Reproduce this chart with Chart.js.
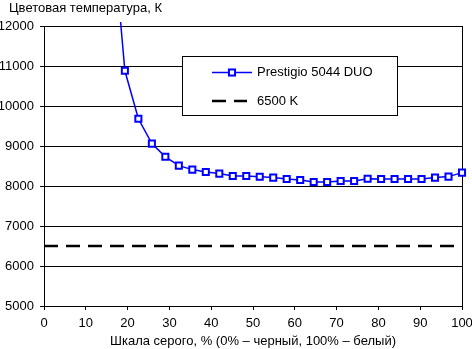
<!DOCTYPE html>
<html>
<head>
<meta charset="utf-8">
<script src="https://cdn.jsdelivr.net/npm/chart.js@4/dist/chart.umd.min.js"></script>
<style>
  html, body { margin: 0; padding: 0; background: #ffffff; }
  canvas { display: block; }
</style>
</head>
<body>
<canvas id="c" width="472" height="349"></canvas>
<script>
// Gray level of each measured step, % (0% = black, 100% = white)
const grayLevels = [16.13, 19.35, 22.58, 25.81, 29.03, 32.26, 35.48, 38.71, 41.94, 45.16,
                    48.39, 51.61, 54.84, 58.06, 61.29, 64.52, 67.74, 70.97, 74.19, 77.42,
                    80.65, 83.87, 87.10, 90.32, 93.55, 96.77, 100];
// Measured colour temperature at each step, K
const colorTemps = [14700, 10880, 9680, 9060, 8730, 8510, 8410, 8350, 8310, 8250,
                    8250, 8230, 8210, 8175, 8150, 8100, 8100, 8125, 8125, 8180,
                    8175, 8175, 8175, 8175, 8210, 8235, 8335];
// Reference white point line
const referenceTemp = 6500;
const referenceSpan = [0, 100];

const seriesNames = ['Prestigio 5044 DUO', '6500 K'];
const xTicks = [0, 10, 20, 30, 40, 50, 60, 70, 80, 90, 100];
const yTicks = [5000, 6000, 7000, 8000, 9000, 10000, 11000, 12000];

const chartTitle = 'Цветовая температура, К';
const xTitle = 'Шкала серого, % (0% – черный, 100% – белый)';

const FONT = { family: '"Liberation Sans", Arial, sans-serif', size: 13 };
const CSS_FONT = FONT.size + 'px ' + FONT.family;

// Axis caption above the value axis, left-aligned
const topCaption = {
  id: 'topCaption',
  afterDraw(chart) {
    const ctx = chart.ctx;
    ctx.save();
    ctx.font = CSS_FONT;
    ctx.fillStyle = '#000000';
    ctx.textAlign = 'left';
    ctx.textBaseline = 'middle';
    ctx.fillText(chartTitle, 9, 8);
    ctx.restore();
  }
};

// Boxed legend drawn inside the plot area
const boxLegend = {
  id: 'boxLegend',
  afterDatasetsDraw(chart) {
    const ctx = chart.ctx;
    const ds = chart.data.datasets;
    const bx = 182.5, by = 56.5, bw = 215, bh = 59;
    ctx.save();
    ctx.fillStyle = '#ffffff';
    ctx.fillRect(bx, by, bw, bh);
    ctx.strokeStyle = '#000000';
    ctx.lineWidth = 1;
    ctx.strokeRect(bx, by, bw, bh);

    const x0 = 212, x1 = 252, tx = 257;
    const rows = [72.5, 101];
    ctx.font = CSS_FONT;
    ctx.textBaseline = 'middle';
    ctx.textAlign = 'left';

    // series row
    ctx.strokeStyle = ds[0].borderColor;
    ctx.lineWidth = ds[0].borderWidth;
    ctx.beginPath();
    ctx.moveTo(x0, rows[0]); ctx.lineTo(x1, rows[0]);
    ctx.stroke();
    const s = ds[0].pointRadius * Math.SQRT1_2;
    const cx = (x0 + x1) / 2;
    ctx.fillStyle = ds[0].pointBackgroundColor;
    ctx.lineWidth = ds[0].pointBorderWidth;
    ctx.strokeStyle = ds[0].pointBorderColor;
    ctx.fillRect(cx - s, rows[0] - s, 2 * s, 2 * s);
    ctx.strokeRect(cx - s, rows[0] - s, 2 * s, 2 * s);
    ctx.fillStyle = '#000000';
    ctx.fillText(ds[0].label, tx, rows[0]);

    // reference row
    ctx.strokeStyle = ds[1].borderColor;
    ctx.lineWidth = ds[1].borderWidth;
    ctx.setLineDash(ds[1].borderDash);
    ctx.beginPath();
    ctx.moveTo(x0, rows[1]); ctx.lineTo(x1 - 5, rows[1]);
    ctx.stroke();
    ctx.setLineDash([]);
    ctx.fillText(ds[1].label, tx, rows[1]);
    ctx.restore();
  }
};

new Chart(document.getElementById('c'), {
  type: 'line',
  data: {
    datasets: [
      {
        label: seriesNames[0],
        data: grayLevels.map((g, i) => ({ x: g, y: colorTemps[i] })),
        borderColor: '#0000ff',
        borderWidth: 1.5,
        pointStyle: 'rect',
        pointRadius: 4.3,
        pointBorderWidth: 2,
        pointBorderColor: '#0000ff',
        pointBackgroundColor: '#ffffff',
        tension: 0,
        clip: { left: 0, top: 4, right: 6, bottom: 0 }
      },
      {
        label: seriesNames[1],
        data: referenceSpan.map(g => ({ x: g, y: referenceTemp })),
        borderColor: '#000000',
        borderWidth: 2.5,
        borderDash: [14, 8],
        pointRadius: 0,
        tension: 0
      }
    ]
  },
  options: {
    responsive: false,
    animation: false,
    devicePixelRatio: 1,
    layout: { padding: { left: 0, right: 10, top: 26, bottom: 0 } },
    plugins: {
      legend: { display: false },
      tooltip: { enabled: false },
      title: { display: false }
    },
    scales: {
      x: {
        type: 'linear',
        min: 0,
        max: 100,
        afterBuildTicks: s => { s.ticks = xTicks.map(v => ({ value: v })); },
        afterFit: s => { s.height = 43; s.paddingLeft = 0; s.paddingRight = 0; },
        border: { display: true, color: '#000000', width: 1 },
        grid: {
          drawOnChartArea: true,
          color: c => (c.tick && c.tick.value === 100 ? '#000000' : 'rgba(0,0,0,0)'),
          tickColor: '#000000',
          tickLength: 4,
          lineWidth: 1
        },
        ticks: {
          autoSkip: false,
          maxRotation: 0,
          padding: 6,
          color: '#000000',
          font: FONT,
          callback: v => String(v)
        },
        title: {
          display: true,
          text: xTitle,
          color: '#000000',
          font: FONT,
          padding: { top: 0, bottom: 0 }
        }
      },
      y: {
        type: 'linear',
        min: 5000,
        max: 12000,
        afterBuildTicks: s => { s.ticks = yTicks.map(v => ({ value: v })); },
        afterFit: s => { s.width = 44; s.paddingTop = 0; s.paddingBottom = 0; },
        border: { display: true, color: '#000000', width: 1 },
        grid: {
          color: '#000000',
          tickColor: '#000000',
          tickLength: 4,
          lineWidth: 1
        },
        ticks: {
          autoSkip: false,
          padding: 6,
          color: '#000000',
          font: FONT,
          callback: v => String(v)
        }
      }
    }
  },
  plugins: [boxLegend, topCaption]
});
</script>
</body>
</html>
